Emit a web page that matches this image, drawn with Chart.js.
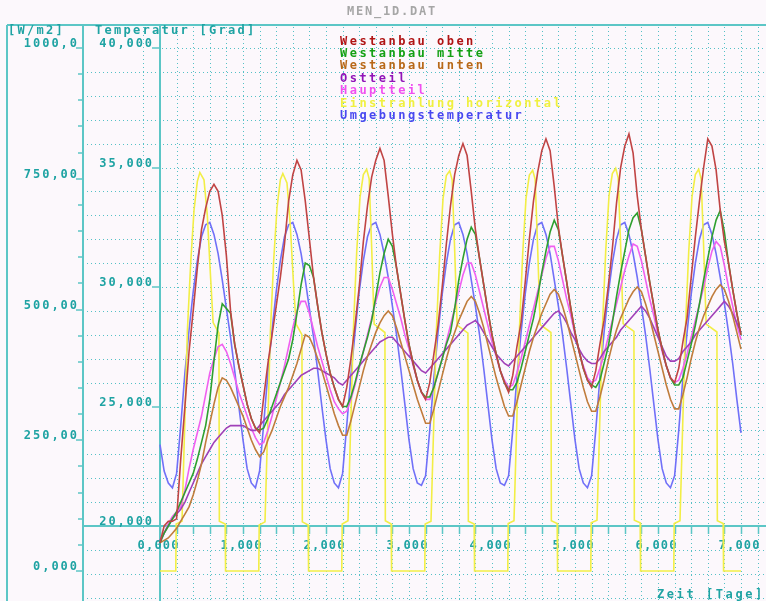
<!DOCTYPE html>
<html>
<head>
<meta charset="utf-8">
<title>MEN_1D.DAT</title>
<script src="https://cdn.jsdelivr.net/npm/chart.js"></script>
<style>
html,body{margin:0;padding:0;background:#fcf8fc;overflow:hidden;}
#box{position:relative;width:766px;height:601px;}
canvas{display:block;}
</style>
</head>
<body>
<div id="box"><canvas id="chart" width="766" height="601"></canvas></div>
<script>
// ---------------- data ----------------
const chartTitle = 'MEN_1D.DAT';
const seriesNames = ['Westanbau oben','Westanbau mitte','Westanbau unten','Ostteil','Hauptteil','Einstrahlung horizontal','Umgebungstemperatur'];

// sample times in days (every 0.05 day = 1.2 h)
const dayTimes = Array.from({length: 141}, (_, i) => Math.round(i * 5) / 100);

const westOben = [
 19.3,20.0,20.2,20.2,20.3,22.8,25.0,27.3,29.0,30.8,32.4,33.3,34.0,34.3,34.0,33.0,31.3,29.0,27.6,26.7,
 25.9,25.1,24.5,24.1,23.9,25.4,26.8,28.0,29.2,30.4,31.8,33.6,34.7,35.3,34.9,33.6,32.0,30.4,29.2,28.1,
 27.2,26.4,25.8,25.3,25.0,25.8,27.0,28.4,30.0,31.9,33.4,34.6,35.3,35.8,35.3,33.8,32.2,30.8,29.7,28.6,
 27.6,26.8,26.1,25.6,25.3,26.0,27.2,28.4,30.0,31.8,33.4,34.7,35.5,36.0,35.5,34.0,32.4,31.2,30.1,29.0,
 28.0,27.2,26.5,26.0,25.6,26.3,27.5,28.5,30.2,32.0,33.6,34.8,35.7,36.2,35.7,34.2,32.5,31.3,30.2,29.1,
 28.1,27.3,26.6,26.1,25.8,26.5,27.6,28.6,30.0,31.6,33.5,35.0,35.9,36.4,35.6,33.8,32.4,31.3,30.2,29.2,
 28.2,27.4,26.7,26.2,26.0,26.6,27.7,28.7,30.4,32.1,33.6,35.0,36.2,35.9,34.9,33.2,31.9,31.0,29.9,28.9,
 28.0];

const westMitte = [
 19.3,19.7,20.0,20.3,20.6,21.0,21.4,21.8,22.2,22.8,23.5,24.2,25.3,26.9,28.4,29.3,29.1,28.9,27.6,26.7,
 25.9,25.1,24.5,24.1,24.0,24.1,24.5,25.0,25.5,26.0,26.5,27.0,27.8,28.9,30.1,31.0,30.9,30.4,29.2,28.1,
 27.2,26.4,25.8,25.3,25.0,25.0,25.4,26.0,26.7,27.3,27.9,28.6,29.6,30.6,31.4,32.0,31.7,30.8,29.7,28.6,
 27.6,26.8,26.1,25.6,25.4,25.4,25.8,26.4,27.0,27.6,28.1,29.1,30.3,31.2,32.0,32.5,32.2,31.2,30.1,29.0,
 28.0,27.2,26.5,26.0,25.7,25.7,26.0,26.6,27.3,28.0,28.7,29.6,30.6,31.5,32.3,32.8,32.4,31.3,30.2,29.1,
 28.1,27.3,26.6,26.1,25.9,25.8,26.1,26.8,27.5,28.5,29.6,30.6,31.5,32.4,32.9,33.1,32.4,31.3,30.2,29.2,
 28.2,27.4,26.7,26.2,25.9,25.9,26.2,26.9,27.6,28.4,29.3,30.3,31.2,32.1,32.8,33.2,32.3,31.0,29.9,28.9,
 28.0];

const westUnten = [
 19.3,19.4,19.5,19.7,19.9,20.2,20.5,20.8,21.3,21.9,22.6,23.5,24.3,25.1,25.8,26.2,26.1,25.8,25.4,25.0,
 24.6,24.1,23.6,23.2,22.9,23.1,23.6,24.0,24.5,25.0,25.4,25.8,26.3,26.8,27.4,28.0,27.9,27.5,27.0,26.5,
 25.9,25.3,24.7,24.2,23.8,23.8,24.4,25.1,25.8,26.5,27.1,27.6,28.1,28.5,28.8,29.0,28.8,28.3,27.7,27.1,
 26.5,25.9,25.3,24.8,24.3,24.3,24.9,25.6,26.3,27.0,27.6,28.1,28.6,29.0,29.4,29.6,29.4,28.9,28.3,27.6,
 26.9,26.2,25.6,25.0,24.6,24.6,25.2,25.9,26.6,27.3,27.9,28.4,28.9,29.3,29.7,29.9,29.7,29.2,28.6,27.9,
 27.2,26.5,25.8,25.2,24.8,24.8,25.4,26.1,26.9,27.6,28.2,28.7,29.1,29.5,29.8,30.0,29.8,29.3,28.7,28.0,
 27.3,26.6,25.9,25.3,24.9,24.9,25.5,26.2,27.0,27.7,28.3,28.8,29.2,29.6,29.9,30.1,29.9,29.4,28.8,28.1,
 27.4];

const ostteil = [
 19.4,19.7,20.0,20.3,20.5,20.7,21.0,21.4,21.8,22.2,22.6,22.9,23.2,23.5,23.7,23.9,24.1,24.2,24.2,24.2,
 24.2,24.1,24.0,24.0,24.2,24.4,24.6,24.8,25.0,25.2,25.5,25.7,25.9,26.1,26.3,26.4,26.5,26.6,26.6,26.5,
 26.4,26.3,26.2,26.0,25.9,26.1,26.3,26.5,26.7,26.9,27.1,27.3,27.5,27.7,27.8,27.9,27.9,27.7,27.5,27.3,
 27.1,26.9,26.7,26.5,26.4,26.6,26.8,27.0,27.2,27.4,27.6,27.8,28.0,28.2,28.4,28.5,28.6,28.4,28.1,27.8,
 27.5,27.2,27.0,26.8,26.7,26.9,27.1,27.3,27.5,27.7,27.9,28.1,28.3,28.5,28.7,28.9,29.0,28.8,28.5,28.1,
 27.8,27.4,27.1,26.9,26.8,26.8,27.0,27.3,27.5,27.7,27.9,28.2,28.4,28.6,28.8,29.0,29.2,29.0,28.7,28.3,
 27.9,27.5,27.1,26.9,26.9,27.0,27.3,27.5,27.7,28.0,28.2,28.4,28.6,28.8,29.0,29.2,29.4,29.2,28.9,28.5,
 28.1];

const hauptteil = [
 19.3,19.7,20.1,20.4,20.6,20.8,21.5,22.4,23.2,23.9,24.6,25.5,26.4,27.0,27.5,27.6,27.3,26.8,26.2,25.6,
 25.1,24.6,24.1,23.7,23.4,23.5,24.0,24.6,25.3,26.0,26.7,27.5,28.3,29.0,29.4,29.4,28.9,28.2,27.5,26.9,
 26.3,25.7,25.2,24.9,24.7,24.8,25.3,25.9,26.6,27.3,28.0,28.7,29.4,30.0,30.4,30.4,29.9,29.3,28.7,28.0,
 27.4,26.7,26.1,25.6,25.3,25.3,25.8,26.4,27.0,27.7,28.4,29.1,29.8,30.5,31.0,31.0,30.5,29.8,29.1,28.4,
 27.7,27.1,26.5,26.1,25.8,25.9,26.4,27.0,27.7,28.4,29.1,29.8,30.5,31.2,31.7,31.7,31.1,30.3,29.5,28.8,
 28.0,27.3,26.7,26.2,26.0,26.1,26.6,27.2,27.9,28.6,29.3,30.0,30.7,31.3,31.8,31.7,31.1,30.3,29.5,28.8,
 28.0,27.3,26.7,26.2,26.0,26.1,26.6,27.2,27.9,28.6,29.3,30.0,30.8,31.5,31.9,31.7,30.9,30.0,29.2,28.4,
 27.8];

const umgebung = [
 23.4,22.3,21.8,21.6,22.2,24.2,26.4,28.2,29.8,31.1,32.1,32.6,32.7,32.2,31.4,30.3,29.1,27.9,26.5,25.0,
 23.6,22.4,21.8,21.6,22.3,24.3,26.4,28.2,29.8,31.1,32.1,32.6,32.7,32.2,31.4,30.3,29.1,27.9,26.5,25.0,
 23.6,22.4,21.8,21.6,22.2,24.2,26.3,28.1,29.8,31.1,32.1,32.6,32.7,32.2,31.4,30.4,29.2,28.0,26.6,25.1,
 23.6,22.4,21.8,21.7,22.1,24.0,26.2,28.1,29.7,31.0,32.0,32.6,32.7,32.2,31.4,30.3,29.2,28.0,26.6,25.1,
 23.6,22.4,21.8,21.7,22.1,24.0,26.2,28.1,29.7,31.0,32.0,32.6,32.7,32.2,31.4,30.3,29.2,28.0,26.6,25.1,
 23.6,22.4,21.8,21.6,22.1,24.0,26.2,28.1,29.7,31.0,32.0,32.6,32.7,32.2,31.4,30.4,29.2,28.0,26.6,25.1,
 23.6,22.4,21.8,21.6,22.1,24.0,26.2,28.1,29.7,31.0,32.0,32.6,32.7,32.2,31.4,30.4,29.3,28.1,26.8,25.3,
 23.9];

// horizontal irradiance (W/m2), own time stamps
const radTimes = [
 0, 0.19,0.195,0.265,0.33,0.37,0.41,0.45,0.48,0.53,0.57,0.61,0.64,0.71,0.715,0.785,0.79,
 1.19,1.195,1.265,1.33,1.37,1.41,1.45,1.48,1.53,1.57,1.61,1.64,1.71,1.715,1.785,1.79,
 2.19,2.195,2.265,2.33,2.37,2.41,2.45,2.49,2.52,2.55,2.58,2.71,2.715,2.785,2.79,
 3.19,3.195,3.265,3.33,3.37,3.41,3.45,3.49,3.52,3.55,3.58,3.71,3.715,3.785,3.79,
 4.19,4.195,4.265,4.33,4.37,4.41,4.45,4.49,4.52,4.55,4.58,4.71,4.715,4.785,4.79,
 5.19,5.195,5.265,5.33,5.37,5.41,5.45,5.49,5.52,5.55,5.58,5.71,5.715,5.785,5.79,
 6.19,6.195,6.265,6.33,6.37,6.41,6.45,6.49,6.52,6.55,6.58,6.71,6.715,6.785,6.79,
 7.0];
const radValues = [
 0, 0,90,95,460,590,690,745,762,748,680,560,475,455,95,90,0,
 0,88,94,458,595,695,748,760,742,660,545,472,452,94,88,0,
 0,90,96,462,610,715,758,768,750,620,472,456,96,90,0,
 0,90,95,460,605,712,756,765,748,615,470,455,95,90,0,
 0,91,96,461,607,713,757,766,749,618,471,456,96,91,0,
 0,92,97,463,612,718,760,770,752,622,473,458,97,92,0,
 0,91,96,462,610,716,758,768,750,620,472,457,96,91,0,
 0];

// axes
const dayTicks = [0,1,2,3,4,5,6,7];
const dayTickLabels = ['0,000','1,000','2,000','3,000','4,000','5,000','6,000','7,000'];
const tempTicks = [20,25,30,35,40];
const tempTickLabels = ['20,000','25,000','30,000','35,000','40,000'];
const radTicks = [0,250,500,750,1000];
const radTickLabels = ['0,000','250,00','500,00','750,00','1000,0'];
const radAxisTitle = '[W/m2]';
const tempAxisTitle = 'Temperatur [Grad]';
const timeAxisTitle = 'Zeit [Tage]';

// ---------------- styling ----------------
const BG = '#fcf8fc';
const AXIS = '#5cc6c6';
const GRID = 'rgba(30,175,180,0.75)';
const TXT = '#1fa3a3';
const FONT = 'bold 12px "DejaVu Sans Mono", "Liberation Mono", monospace';
const lineColors = ['#c04444','#2ea02e','#c07c3c','#a040b8','#f060f0','#f2ee46','#7070f8'];
const legendColors = ['#b01414','#14a014','#b86818','#9014b8','#f050f0','#f0f040','#4848f0'];

function monoText(c, str, x, y, adv, align, color) {
  c.fillStyle = color;
  const gw = c.measureText('0').width;
  const total = (str.length - 1) * adv + gw;
  let sx = x;
  if (align === 'right') sx = x - total;
  else if (align === 'center') sx = x - total / 2;
  for (let i = 0; i < str.length; i++) c.fillText(str[i], sx + i * adv, y);
}
function seg(c, x1, y1, x2, y2) { c.beginPath(); c.moveTo(x1, y1); c.lineTo(x2, y2); c.stroke(); }

const LEFT_BORDER = 7, W_AXIS_X = 83, TOP_Y = 25;

const retroFrame = {
  id: 'retroFrame',
  beforeDraw(chart) {
    const c = chart.ctx;
    c.save(); c.fillStyle = BG; c.fillRect(0, 0, chart.width, chart.height); c.restore();
  },
  beforeDatasetsDraw(chart) {
    const c = chart.ctx;
    const sx = chart.scales.x, st = chart.scales.yT, sw = chart.scales.yW;
    const W = chart.width, H = chart.height;
    const tAxisX = Math.round(sx.getPixelForValue(0));
    const xAxisY = Math.round(st.getPixelForValue(20));
    c.save();
    // dotted grid
    c.strokeStyle = GRID; c.lineWidth = 1; c.setLineDash([1, 3]);
    for (let k = -1; k <= 36; k++) {
      if (k === 0) continue;
      const px = Math.round(sx.getPixelForValue(k / 5)) + 0.5;
      seg(c, px, TOP_Y + 2, px, H);
    }
    for (let t = 17; t <= 40; t++) {
      if (t === 20) continue;
      const py = Math.round(st.getPixelForValue(t)) + 0.5;
      const x0 = (t % 5 === 0) ? tAxisX + 2 : W_AXIS_X + 4;
      seg(c, x0, py, W, py);
    }
    c.setLineDash([]);
    // solid frame / axes
    c.strokeStyle = AXIS; c.lineWidth = 2;
    seg(c, LEFT_BORDER, TOP_Y, W, TOP_Y);
    seg(c, LEFT_BORDER, TOP_Y, LEFT_BORDER, H);
    seg(c, W_AXIS_X, TOP_Y, W_AXIS_X, H);
    seg(c, tAxisX, TOP_Y, tAxisX, H);
    seg(c, W_AXIS_X, xAxisY, W, xAxisY);
    // ticks
    c.lineWidth = 1.5;
    for (let k = 0; k <= 36; k++) {
      const px = Math.round(sx.getPixelForValue(k / 5)) + 0.5;
      seg(c, px, xAxisY + 1, px, xAxisY + 8);
    }
    for (let v = 0; v <= 1000; v += 50) {
      const py = Math.round(sw.getPixelForValue(v));
      seg(c, v % 250 === 0 ? W_AXIS_X - 7 : W_AXIS_X - 5, py, W_AXIS_X, py);
    }
    tempTicks.forEach(t => {
      const py = Math.round(st.getPixelForValue(t));
      seg(c, tAxisX - 8, py, tAxisX, py);
    });
    // labels
    c.font = FONT; c.textAlign = 'left'; c.textBaseline = 'alphabetic';
    radTicks.forEach((v, i) => {
      const py = Math.round(sw.getPixelForValue(v));
      monoText(c, radTickLabels[i], W_AXIS_X - 6, py - 1, 9.2, 'right', TXT);
    });
    tempTicks.forEach((v, i) => {
      const py = Math.round(st.getPixelForValue(v));
      monoText(c, tempTickLabels[i], tAxisX - 8, py - 1, 9.1, 'right', TXT);
    });
    dayTicks.forEach((v, i) => {
      const px = sx.getPixelForValue(v);
      monoText(c, dayTickLabels[i], px - 2, xAxisY + 23, 8.4, 'center', TXT);
    });
    monoText(c, radAxisTitle, 8, 34, 9.5, 'left', TXT);
    monoText(c, tempAxisTitle, 95, 34, 9.5, 'left', TXT);
    monoText(c, timeAxisTitle, 657, 598, 9.8, 'left', TXT);
    monoText(c, chartTitle, 347, 15, 9.0, 'left', '#a6a6a6');
    // legend
    const legY = [45, 57, 69, 82, 94, 107, 119];
    seriesNames.forEach((n, i) => monoText(c, n, 340, legY[i], 9.7, 'left', legendColors[i]));
    c.restore();
  }
};

function pts(xs, ys) { return xs.map((x, i) => ({x: x, y: ys[i]})); }

const tempSeries = [westOben, westMitte, westUnten, ostteil, hauptteil];
const datasets = [];
tempSeries.forEach((arr, i) => datasets.push({
  label: seriesNames[i], data: pts(dayTimes, arr), yAxisID: 'yT',
  borderColor: lineColors[i], borderWidth: 1.6, pointRadius: 0, tension: 0
}));
datasets.push({label: seriesNames[5], data: pts(radTimes, radValues), yAxisID: 'yW',
  borderColor: lineColors[5], borderWidth: 1.6, pointRadius: 0, tension: 0});
datasets.push({label: seriesNames[6], data: pts(dayTimes, umgebung), yAxisID: 'yT',
  borderColor: lineColors[6], borderWidth: 1.6, pointRadius: 0, tension: 0});

new Chart(document.getElementById('chart').getContext('2d'), {
  type: 'line',
  data: {datasets: datasets},
  options: {
    responsive: false, animation: false, devicePixelRatio: 1,
    layout: {padding: 0},
    events: [],
    plugins: {legend: {display: false}, tooltip: {enabled: false}, title: {display: false}},
    scales: {
      x: {type: 'linear', min: -1.92771, max: 7.30121, display: false},
      yT: {type: 'linear', min: 16.8620, max: 42.0084, display: false},
      yW: {type: 'linear', min: -57.36, max: 1091.78, display: false}
    }
  },
  plugins: [retroFrame]
});
</script>
</body>
</html>
